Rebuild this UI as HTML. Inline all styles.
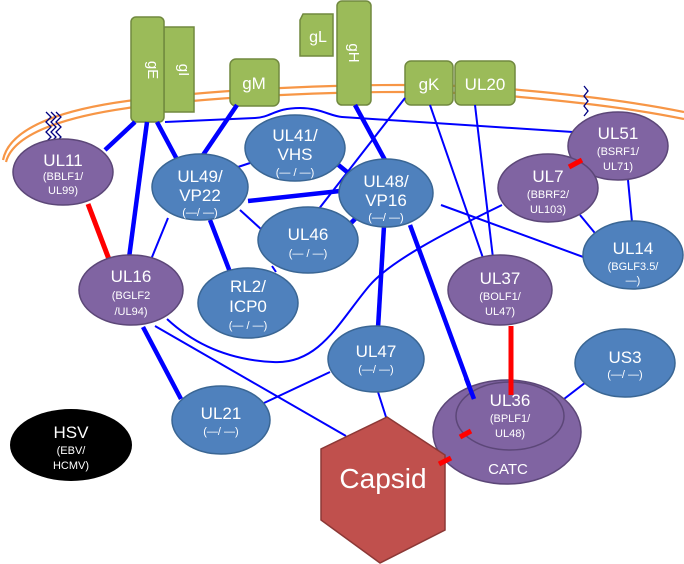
<!DOCTYPE html>
<html><head><meta charset="utf-8"><style>
body{margin:0;background:#fff;overflow:hidden;}
svg{display:block;font-family:"Liberation Sans",sans-serif;}
.b{fill:#4f81bd;stroke:#3a6694;stroke-width:1.5}
.p{fill:#8064a2;stroke:#5c4778;stroke-width:1.5}
.g{fill:#9bbb59;stroke:#71893f;stroke-width:1.5}
.t{fill:#fff;text-anchor:middle;font-size:17px}
.s{fill:#fff;text-anchor:middle;font-size:11px}
.k{stroke:#0000ff;stroke-width:4.5;fill:none}
.n{stroke:#0000ff;stroke-width:2;fill:none}
.r{stroke:#ff0000;stroke-width:5;fill:none}
</style></head><body>
<svg width="684" height="564" viewBox="0 0 684 564">
<path d="M3,160 C10,125 70,108 135,100 C250,86 420,80 520,90 C600,97 650,105 684,112" stroke="#f79646" stroke-width="2.2" fill="none"/>
<path d="M6,162 C14,131 74,115 135,107 C250,93 420,87 520,97 C600,104 650,112 684,119" stroke="#f79646" stroke-width="2.2" fill="none"/>
<g stroke="#000080" stroke-width="1.3" fill="none">
<path d="M46,112 l5,5 -5,5 5,5 -5,5 5,5 -5,5"/>
<path d="M51,112 l5,5 -5,5 5,5 -5,5 5,5 -5,5"/>
<path d="M56,112 l5,5 -5,5 5,5 -5,5 5,5 -5,5"/>
<path d="M584,86 l4,5 -4,5 4,5 -4,5 4,5 -4,5"/>
</g>
<rect class="g" x="164" y="27" width="30" height="85"/>
<rect class="g" x="131" y="17" width="33" height="105" rx="5"/>
<rect class="g" x="230" y="59" width="49" height="47" rx="6"/>
<path class="g" d="M303,14 H333 V56 H300 V20 Z"/>
<rect class="g" x="337" y="1" width="34" height="104" rx="5"/>
<rect class="g" x="405" y="61" width="48" height="44" rx="6"/>
<rect class="g" x="455" y="61" width="60" height="44" rx="6"/>
<text class="t" transform="translate(148,70) rotate(90)" style="font-size:15px">gE</text>
<text class="t" transform="translate(179,70) rotate(90)" style="font-size:15px">gI</text>
<text class="t" x="254" y="89">gM</text>
<text class="t" x="318" y="42" style="font-size:16px">gL</text>
<text class="t" transform="translate(349,53) rotate(90)" style="font-size:15px">gH</text>
<text class="t" x="429" y="90">gK</text>
<text class="t" x="485" y="90">UL20</text>
<path class="k" d="M135,122 L105,150"/>
<path class="k" d="M147,122 L129,258"/>
<path class="k" d="M157,122 L180,165"/>
<path class="n" d="M165,122 L255,118 C272,117 275,108 300,108 C320,108 330,116 342,117 L573,132"/>
<path class="k" d="M237,105 L203,155"/>
<path class="n" d="M235,168 L253,162"/>
<path class="k" d="M248,201 L340,191"/>
<path class="n" d="M240,210 L262,230"/>
<path class="k" d="M210,220 L230,272"/>
<path class="n" d="M168,218 L150,262"/>
<path class="k" d="M336,163 L352,176"/>
<path class="k" d="M348,226 L358,216"/>
<path class="n" d="M272,266 L276,272"/>
<path class="n" d="M405,98 L318,210"/>
<path class="k" d="M355,105 L385,160"/>
<path class="n" d="M430,105 L483,258"/>
<path class="n" d="M475,105 L493,258"/>
<path class="k" d="M384,226 L378,328"/>
<path class="k" d="M410,225 L474,399"/>
<path class="n" d="M441,205 L586,258"/>
<path class="n" d="M502,205 C440,235 390,262 370,285 C340,320 320,365 273,362 C230,360 195,345 167,319"/>
<path class="n" d="M580,215 L599,238"/>
<path class="n" d="M628,180 L632,222"/>
<path class="r" d="M88,204 L110,262"/>
<path class="k" d="M143,327 L181,399"/>
<path class="n" d="M155,326 L346,436"/>
<path class="n" d="M330,372 L264,403"/>
<path class="n" d="M378,392 L386,417"/>
<path class="n" d="M590,379 L551,409"/>
<ellipse class="p" cx="63" cy="172" rx="50" ry="33"/>
<ellipse class="b" cx="200" cy="187" rx="48" ry="33"/>
<ellipse class="b" cx="295" cy="148" rx="50" ry="33"/>
<ellipse class="b" cx="386" cy="193" rx="47" ry="34"/>
<ellipse class="b" cx="308" cy="240" rx="50" ry="33"/>
<ellipse class="b" cx="248" cy="303" rx="50" ry="35"/>
<ellipse class="p" cx="131" cy="290" rx="52" ry="35"/>
<ellipse class="p" cx="618" cy="146" rx="50" ry="34"/>
<ellipse class="p" cx="548" cy="188" rx="50" ry="34"/>
<ellipse class="b" cx="633" cy="255" rx="50" ry="34"/>
<ellipse class="p" cx="500" cy="290" rx="52" ry="35"/>
<ellipse class="b" cx="625" cy="363" rx="50" ry="34"/>
<ellipse class="b" cx="376" cy="359" rx="48" ry="33"/>
<ellipse class="b" cx="221" cy="420" rx="49" ry="34"/>
<ellipse cx="71" cy="445" rx="61" ry="36" fill="#000"/>
<ellipse class="p" cx="507" cy="432" rx="74" ry="52"/>
<ellipse class="p" cx="510" cy="416" rx="54" ry="34"/>
<path class="r" d="M511,326 L511,395"/>
<path class="k" d="M466,378 L474,399"/>
<polygon points="387,417 445,455 445,530 380,563 321,520 321,449" fill="#c0504d" stroke="#8c3836" stroke-width="1.5"/>
<path class="r" d="M569,167 L582,160" stroke-width="6"/>
<path class="r" d="M460,437 L471,431" stroke-width="6"/>
<path class="r" d="M439,464 L451,458" stroke-width="6"/>
<text class="t" x="63" y="166">UL11</text><text class="s" x="63" y="180">(BBLF1/</text><text class="s" x="63" y="194">UL99)</text>
<text class="t" x="200" y="182">UL49/</text><text class="t" x="200" y="201">VP22</text><text class="s" x="200" y="216">(—/ —)</text>
<text class="t" x="295" y="141">UL41/</text><text class="t" x="295" y="160">VHS</text><text class="s" x="295" y="176">(— / —)</text>
<text class="t" x="386" y="187">UL48/</text><text class="t" x="386" y="206">VP16</text><text class="s" x="386" y="221">(—/ —)</text>
<text class="t" x="308" y="240">UL46</text><text class="s" x="308" y="257">(— / —)</text>
<text class="t" x="248" y="292">RL2/</text><text class="t" x="248" y="312">ICP0</text><text class="s" x="248" y="329">(— / —)</text>
<text class="t" x="131" y="282">UL16</text><text class="s" x="131" y="299">(BGLF2</text><text class="s" x="131" y="315">/UL94)</text>
<text class="t" x="618" y="139">UL51</text><text class="s" x="618" y="155">(BSRF1/</text><text class="s" x="618" y="170">UL71)</text>
<text class="t" x="548" y="182">UL7</text><text class="s" x="548" y="198">(BBRF2/</text><text class="s" x="548" y="213">UL103)</text>
<text class="t" x="633" y="254">UL14</text><text class="s" x="633" y="270">(BGLF3.5/</text><text class="s" x="633" y="284">—)</text>
<text class="t" x="500" y="284">UL37</text><text class="s" x="500" y="300">(BOLF1/</text><text class="s" x="500" y="315">UL47)</text>
<text class="t" x="625" y="363">US3</text><text class="s" x="625" y="378">(—/ —)</text>
<text class="t" x="376" y="357">UL47</text><text class="s" x="376" y="373">(—/ —)</text>
<text class="t" x="221" y="419">UL21</text><text class="s" x="221" y="435">(—/ —)</text>
<text class="t" x="71" y="438">HSV</text><text class="s" x="71" y="454">(EBV/</text><text class="s" x="71" y="469">HCMV)</text>
<text class="t" x="510" y="406">UL36</text><text class="s" x="510" y="422">(BPLF1/</text><text class="s" x="510" y="437">UL48)</text>
<text class="t" x="508" y="474" style="font-size:15px">CATC</text>
<text class="t" x="383" y="488" style="font-size:28px">Capsid</text>
</svg>
</body></html>
